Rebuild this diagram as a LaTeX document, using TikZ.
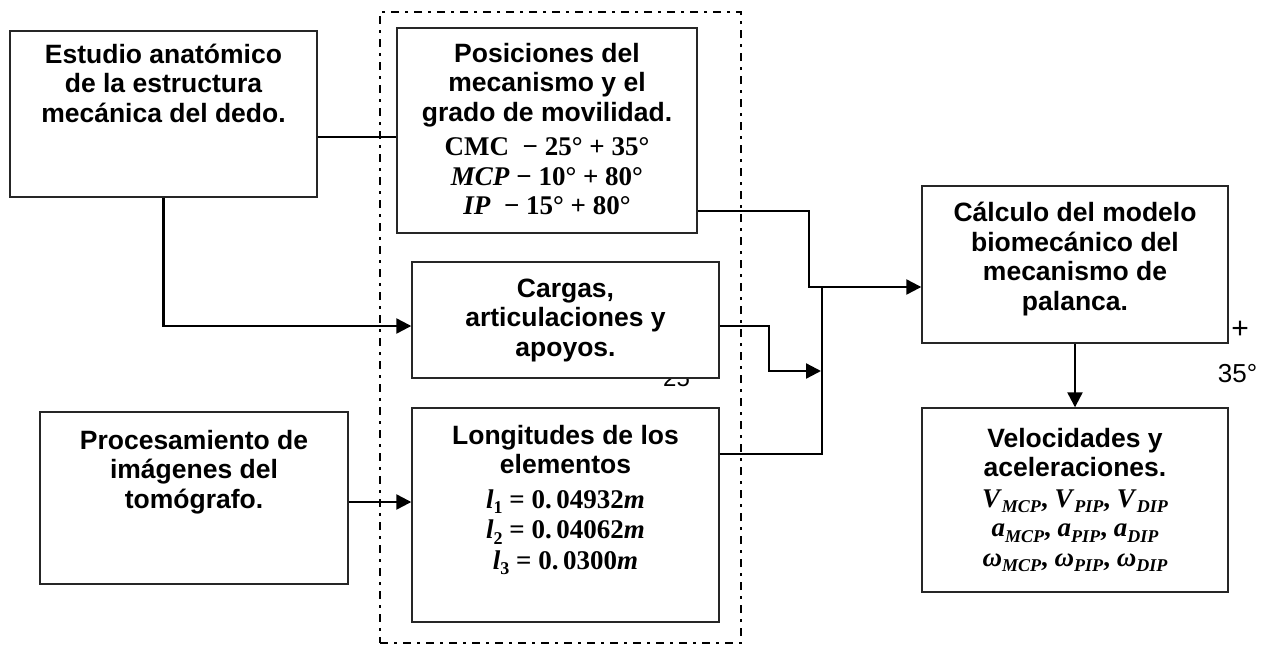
\documentclass[tikz,border=0pt]{standalone}
\usepackage{fontspec}
\setmainfont{Liberation Sans}
\newfontfamily\serifmath{Liberation Serif}
\usetikzlibrary{arrows.meta,calc}
\newcommand\mf{\serifmath\bfseries\fontsize{27}{28}\selectfont}
\newcommand\mi[1]{\textit{#1}}
\newcommand\sbx[1]{\raisebox{-0.2em}{\fontsize{18}{18}\selectfont #1}}
\tikzset{
  box/.style={draw=black!85, line width=1.4pt, fill=white, inner sep=0pt},
  txt/.style={font=\fontsize{26.5}{29.5}\selectfont\bfseries, align=center, anchor=north, inner sep=0pt},
  conn/.style={line width=2.3pt},
  arr/.style={conn, -{Triangle[length=15pt,width=15pt]}},
  thinline/.style={line width=1.2pt},
  frame/.style={draw, line width=2.2pt, dash pattern=on 8pt off 6pt on 3pt off 6pt},
  plain/.style={font=\fontsize{26}{28}\selectfont, inner sep=0pt}
}
\begin{document}
\begin{tikzpicture}[x=1pt,y=-1pt]
\useasboundingbox (0,0) rectangle (1267,651);
% dash-dot frame
\node[frame, minimum width=361pt, minimum height=631pt, inner sep=0pt] (D) at (560.5,327.5) {};
% stray text behind box
\node[font=\fontsize{24}{24}\selectfont, anchor=base west, inner sep=0pt] (t25) at (663,386) {25};
% boxes
\node[box, minimum width=307pt, minimum height=166pt] (A) at (163.5,114) {};
\node[box, minimum width=300pt, minimum height=205pt] (P) at (547,130.5) {};
\node[box, minimum width=307pt, minimum height=116pt, txt, anchor=center] (C) at (565.5,320) {Cargas,\\articulaciones y\\apoyos.};
\node[box, minimum width=307pt, minimum height=214pt] (L) at (565.5,515) {};
\node[box, minimum width=308pt, minimum height=172pt] (R) at (194,498) {};
\node[box, minimum width=306pt, minimum height=157pt] (K) at (1075,264.5) {};
\node[box, minimum width=306pt, minimum height=184pt] (V) at (1075,500) {};
% texts
\node[txt] (At) at (A.north |- 0,43.5) {Estudio anatómico\\de la estructura\\mecánica del dedo.};
\node[txt] (Pt) at (P.north |- 0,43) {Posiciones del\\mecanismo y el\\grado de movilidad.\\[5pt]
 {\mf CMC\ \ − 25° + 35°}\\
 {\mf \mi{MCP} − 10° + 80°}\\
 {\mf \mi{IP}\ \ − 15° + 80°}};
\node[txt] (Lt) at (L.north |- 0,425) {Longitudes de los\\elementos\\[5pt]
 {\mf \mi{l}\sbx{1} = 0.\,04932\mi{m}}\\[1pt]
 {\mf \mi{l}\sbx{2} = 0.\,04062\mi{m}}\\[1pt]
 {\mf \mi{l}\sbx{3} = 0.\,0300\mi{m}}};
\node[txt] (Rt) at (R.north |- 0,430) {Procesamiento de\\imágenes del\\tomógrafo.};
\node[txt] (Kt) at (K.north |- 0,202) {Cálculo del modelo\\biomecánico del\\mecanismo de\\palanca.};
\node[txt] (Vt) at (V.north |- 0,428) {Velocidades y\\aceleraciones.\\[1pt]
 {\mf \mi{V}\sbx{\mi{MCP}}, \mi{V}\sbx{\mi{PIP}}, \mi{V}\sbx{\mi{DIP}}}\\
 {\mf \mi{a}\sbx{\mi{MCP}}, \mi{a}\sbx{\mi{PIP}}, \mi{a}\sbx{\mi{DIP}}}\\
 {\mf \mi{ω}\sbx{\mi{MCP}}, \mi{ω}\sbx{\mi{PIP}}, \mi{ω}\sbx{\mi{DIP}}}};
% stray labels
\node[plain, font=\fontsize{30}{30}\selectfont] (plus) at (1240,330) {+};
\node[plain] (deg) at (1237.5,374) {35°};
% connectors
\coordinate (bus) at (822,287);
\draw[conn] (A.east |- 0,137) -- (P.west |- 0,137);
\draw[arr] (A.south) |- (C.west |- 0,326);
\draw[arr] (R.east |- 0,502) -- (L.west |- 0,502);
\draw[arr] (P.east |- 0,211) -- (809,211) -- (809,287) -- (K.west |- 0,287);
\draw[arr] (C.east |- 0,326) -- (769,326) -- (769,371) -- ([xshift=-1pt]bus |- 0,371);
\draw[thinline] (L.east |- 0,454) -- (bus |- 0,454) -- (bus);
\draw[arr] (K.south) -- (V.north);
\end{tikzpicture}
\end{document}
